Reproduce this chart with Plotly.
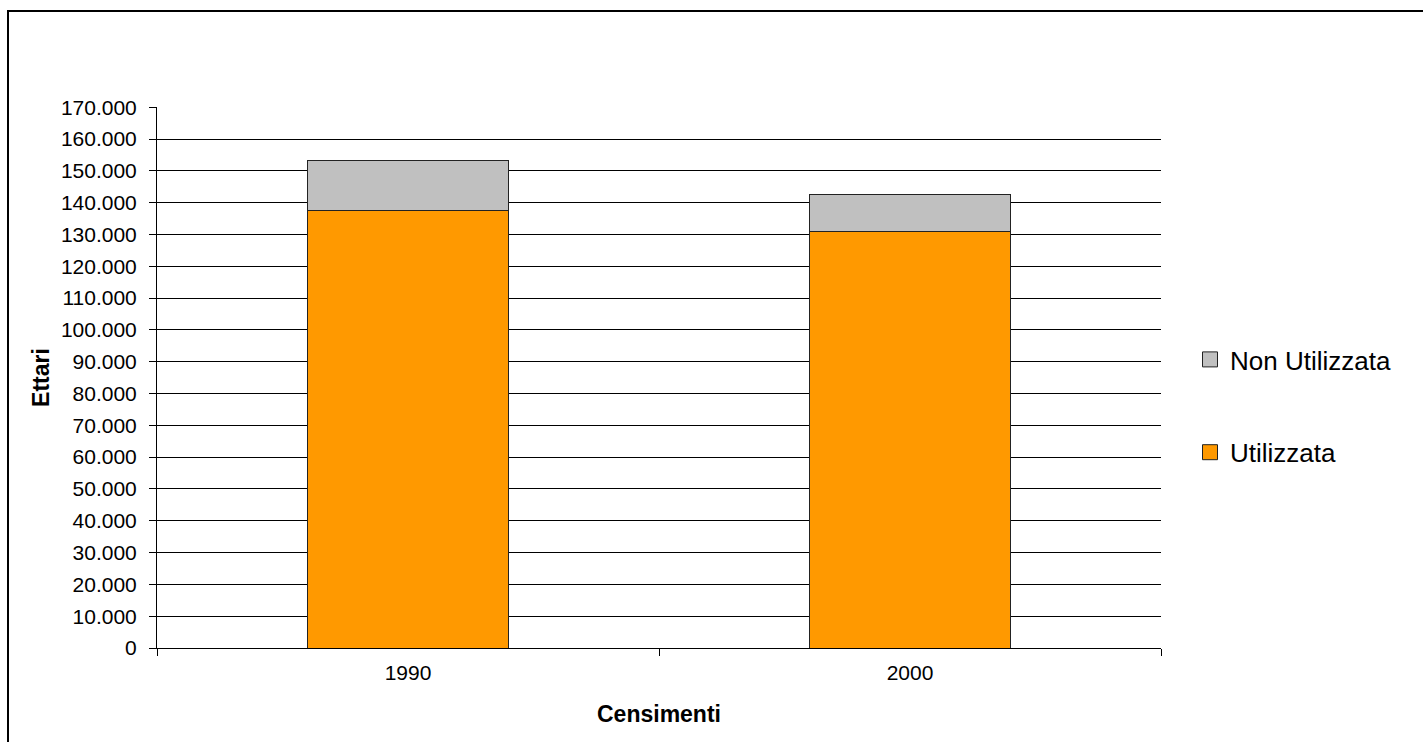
import plotly.graph_objects as go

categories = ["1990", "2000"]
utilizzata = [137600, 130800]
non_utilizzata = [15700, 11900]

FONT = "Liberation Sans, Arial, sans-serif"
ORANGE, GRAY, EDGE = "#FF9900", "#C0C0C0", "#222222"

fig = go.Figure()
fig.add_trace(go.Bar(
    x=categories, y=utilizzata, name="Utilizzata",
    marker=dict(color=ORANGE, line=dict(color=EDGE, width=1)),
    width=0.4, showlegend=False,
))
fig.add_trace(go.Bar(
    x=categories, y=non_utilizzata, name="Non Utilizzata",
    marker=dict(color=GRAY, line=dict(color=EDGE, width=1)),
    width=0.4, showlegend=False,
))
# legend entries with larger square swatches
for name, color, rank in [("Non Utilizzata", GRAY, 1), ("Utilizzata", ORANGE, 2)]:
    fig.add_trace(go.Scatter(
        x=[None], y=[None], mode="markers", name=name,
        marker=dict(symbol="square", size=15, color=color, line=dict(color=EDGE, width=1)),
        legendgroup=name, legendrank=rank, hoverinfo="skip",
    ))

L, R, T, B = 157, 262, 107, 94
W, H = 1423, 742
pw, ph = W - L - R, H - T - B

def px(x):
    return (x - L) / pw

def py(y):
    return (H - B - y) / ph

fig.update_layout(
    width=W, height=H,
    margin=dict(l=L, r=R, t=T, b=B),
    barmode="stack",
    separators=",.",
    paper_bgcolor="white", plot_bgcolor="white",
    font=dict(family=FONT, color="black", size=21),
    showlegend=True,
    legend=dict(
        x=px(1190), y=py(406), xanchor="left", yanchor="middle",
        traceorder="grouped", tracegroupgap=56,
        font=dict(size=26, family=FONT), bgcolor="rgba(0,0,0,0)",
    ),
    xaxis=dict(
        type="category", showline=True, linecolor="black", linewidth=1,
        ticks="outside", ticklen=7, tickcolor="black", tickson="boundaries",
        tickfont=dict(size=21), ticklabelstandoff=6,
        title=dict(text="<b>Censimenti</b>", font=dict(size=23), standoff=22),
        showgrid=False, zeroline=False,
    ),
    yaxis=dict(
        range=[0, 170060], dtick=10000, tickformat=",d",
        showline=True, linecolor="black", linewidth=1,
        ticks="outside", ticklen=7, tickcolor="black",
        showgrid=True, gridcolor="black", gridwidth=1,
        tickfont=dict(size=21), ticklabelstandoff=8,
        title=dict(text="<b>Ettari</b>", font=dict(size=23), standoff=4),
        zeroline=False,
    ),
    shapes=[dict(
        type="rect", xref="paper", yref="paper",
        x0=px(8), x1=px(1500), y0=py(800), y1=py(11),
        line=dict(color="black", width=2), fillcolor="rgba(0,0,0,0)", layer="below",
    )],
)

fig.write_html("out.html")
